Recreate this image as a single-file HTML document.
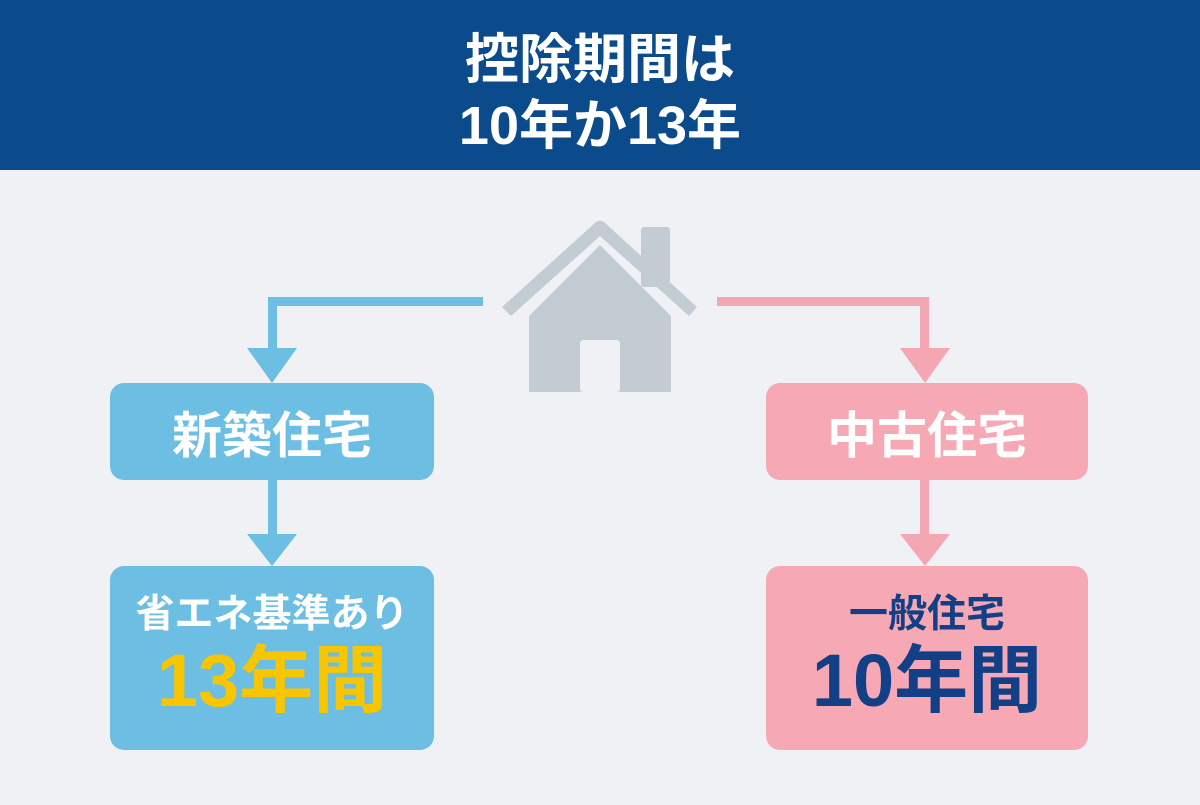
<!DOCTYPE html>
<html><head><meta charset="utf-8"><style>
*{margin:0;padding:0;box-sizing:border-box}
body{width:1200px;height:805px;background:#eff1f4;position:relative;overflow:hidden;font-family:"Liberation Sans","Noto Sans CJK JP",sans-serif;font-weight:bold}
.hdr{position:absolute;left:0;top:0;width:1200px;height:170px;background:#0b4a8b;color:#fff;text-align:center;font-size:54px;line-height:66px;padding-top:27px}
.box{position:absolute;border-radius:14px;display:flex;flex-direction:column;align-items:center;justify-content:center;text-align:center}
.b{background:#6cbee3}.p{background:#f6a9b4}
.a{position:absolute}
</style></head><body>
<div class="hdr">控除期間は<br>10年か13年</div>
<svg class="a" style="left:0;top:0" width="1200" height="805">
<g fill="#6cbee3">
<rect x="268" y="297" width="215" height="9"/>
<rect x="268" y="297" width="9" height="55"/>
<polygon points="247,348 297,348 272,383"/>
<rect x="268" y="478" width="9" height="60"/>
<polygon points="247,534 297,534 272,566"/>
</g>
<g fill="#f4a7b3">
<rect x="717" y="297" width="212" height="9"/>
<rect x="920" y="297" width="9" height="55"/>
<polygon points="900,348 950,348 925,383"/>
<rect x="920" y="478" width="9" height="60"/>
<polygon points="900,534 950,534 925,566"/>
</g>
<g fill="#c3ccd3">
<rect x="641" y="227" width="29" height="60" rx="3"/>
<polygon points="529,316 600,245 671,316 671,388 529,388"/>
<path d="M502,307 L596,222 Q600,219 604,222 L697,307 L689,316 L600,236 L511,316 Z"/>
</g>
<rect x="529" y="388" width="142" height="4" fill="#c3ccd3"/>
<rect x="580" y="340" width="40" height="52" rx="3" fill="#eff1f4"/>
</svg>
<div class="box b" style="left:110px;top:383px;width:324px;height:97px;color:#fff;font-size:50px">新築住宅</div>
<div class="box p" style="left:766px;top:383px;width:322px;height:97px;color:#fff;font-size:50px">中古住宅</div>
<div class="box b" style="left:110px;top:566px;width:324px;height:184px">
<div style="color:#fff;font-size:39px;line-height:46px">省エネ基準あり</div>
<div style="color:#f7c600;font-size:74px;line-height:86px">13年間</div></div>
<div class="box p" style="left:766px;top:566px;width:322px;height:184px">
<div style="color:#123f85;font-size:39px;line-height:46px">一般住宅</div>
<div style="color:#123f85;font-size:74px;line-height:86px">10年間</div></div>
</body></html>
